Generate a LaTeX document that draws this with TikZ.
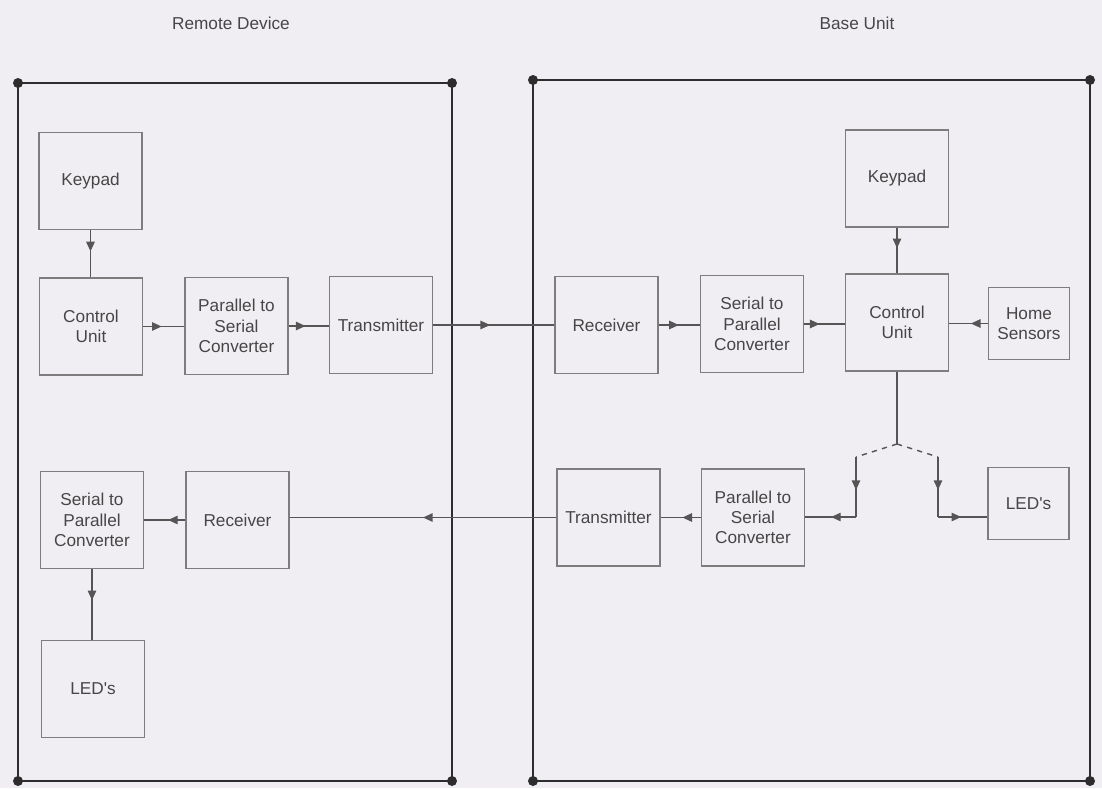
\documentclass[tikz,border=0pt]{standalone}
\usepackage{fontspec}
\setmainfont{Liberation Sans}
\usetikzlibrary{arrows.meta,decorations.markings}
\definecolor{paper}{RGB}{241,238,243}
\definecolor{boxgray}{RGB}{125,125,125}
\definecolor{linegray}{RGB}{85,85,85}
\definecolor{framegray}{RGB}{45,45,45}
\definecolor{textgray}{RGB}{70,70,70}
\newcommand{\blockfont}{\fontsize{9.8}{11.5}\selectfont}

\begin{document}
\begin{tikzpicture}[
    x=0.02cm, y=-0.02cm,
    block/.style={draw=boxgray, line width=0.7pt, text=textgray, font=\blockfont, minimum width=2.06cm, minimum height=1.94cm, inner sep=1pt, align=center},
    small/.style={block, minimum width=1.62cm, minimum height=1.44cm},
    title/.style={text=textgray, font=\blockfont},
    frame/.style={draw=framegray, line width=1.1pt},
    wire/.style={draw=linegray, line width=0.8pt},
    flow/.style={wire, postaction={decorate}, decoration={markings, mark=at position #1 with {\arrow{Triangle[length=5.5pt,width=4.8pt]}}}}
  ]
  \fill[paper] (0,0) rectangle (1102,788);
  \useasboundingbox (0,0) rectangle (1102,788);

  \node[title] (rtitle) at (231,23) {Remote Device};
  \node[title] (btitle) at (857,23) {Base Unit};

  \coordinate (rtl) at (18,83);
  \coordinate (rbr) at (452,781);
  \coordinate (btl) at (533,80);
  \coordinate (bbr) at (1090,781);
  \draw[frame] (rtl) rectangle (rbr);
  \draw[frame] (btl) rectangle (bbr);
  \foreach \c in {rtl,rbr,btl,bbr} \fill[framegray] (\c) circle (0.1cm);
  \fill[framegray] (rtl -| rbr) circle (0.1cm);
  \fill[framegray] (rtl |- rbr) circle (0.1cm);
  \fill[framegray] (btl -| bbr) circle (0.1cm);
  \fill[framegray] (btl |- bbr) circle (0.1cm);

  \node[block] (rkey) at (90.5,181) {Keypad};
  \node[block] (rcu) at (91,326.5) {Control\\Unit};
  \node[block] (rp2s) at (236.5,326) {Parallel to\\Serial\\Converter};
  \node[block] (rtx) at (381,325) {Transmitter};
  \node[block] (rs2p) at (92,520) {Serial to\\Parallel\\Converter};
  \node[block] (rrx) at (237.5,520) {Receiver};
  \node[block] (rled) at (93,689) {LED\textquotesingle s};

  \node[block] (bkey) at (897,178.5) {Keypad};
  \node[block] (brx) at (606.5,325) {Receiver};
  \node[block] (bs2p) at (752,324) {Serial to\\Parallel\\Converter};
  \node[block] (bcu) at (897,322.5) {Control\\Unit};
  \node[small] (bhome) at (1029,323.5) {Home\\Sensors};
  \node[block] (btx) at (608.5,517.5) {Transmitter};
  \node[block] (bp2s) at (753,517.5) {Parallel to\\Serial\\Converter};
  \node[small] (bled) at (1028.5,503.5) {LED\textquotesingle s};

  \coordinate (split) at (897,444);
  \coordinate (lj) at (856,457);
  \coordinate (rj) at (938,457);
  \coordinate (lb) at (856,517);
  \coordinate (rb) at (938,517);

  \draw[flow=0.45] (rkey.south) -- (rkey.south |- rcu.north);
  \draw[flow=0.45] (rcu.east) -- (rcu.east -| rp2s.west);
  \draw[flow=0.42] (rp2s.east) -- (rp2s.east -| rtx.west);
  \draw[flow=0.47] (rtx.east) -- (rtx.east -| brx.west);
  \draw[flow=0.49] (brx.east) -- (brx.east -| bs2p.west);
  \draw[flow=0.38] (bs2p.east) -- (bs2p.east -| bcu.west);
  \draw[flow=0.44] (bhome.west) -- (bhome.west -| bcu.east);
  \draw[flow=0.45] (bkey.south) -- (bkey.south |- bcu.north);
  \draw[wire] (bcu.south) -- (split);
  \draw[wire, dashed] (split) -- (lj);
  \draw[wire, dashed] (split) -- (rj);
  \draw[flow=0.55] (lj) -- (lb);
  \draw[flow=0.49] (lb) -- (lb -| bp2s.east);
  \draw[flow=0.55] (rj) -- (rb);
  \draw[flow=0.47] (rb) -- (rb -| bled.west);
  \draw[flow=0.46] (bp2s.west) -- (bp2s.west -| btx.east);
  \draw[flow=0.5] (btx.west) -- (btx.west -| rrx.east);
  \draw[flow=0.42] (rrx.west) -- (rrx.west -| rs2p.east);
  \draw[flow=0.44] (rs2p.south) -- (rs2p.south |- rled.north);
\end{tikzpicture}
\end{document}
